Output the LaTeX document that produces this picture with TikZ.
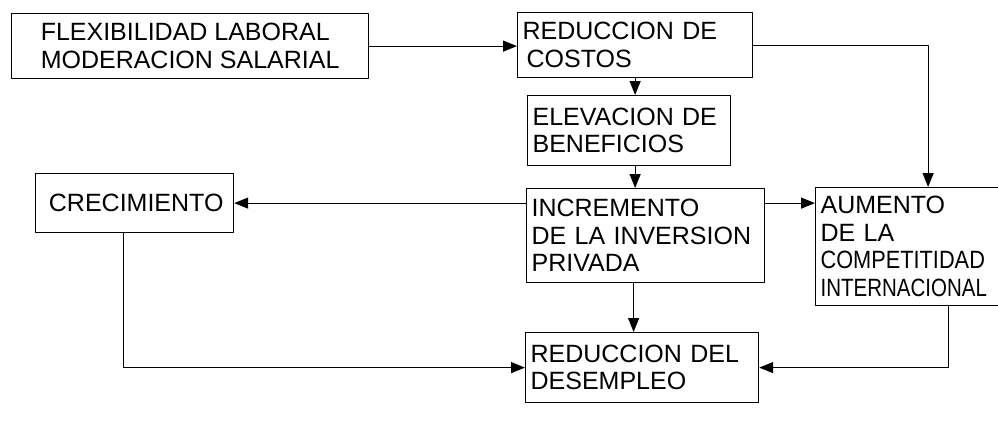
\documentclass[tikz,border=0pt]{standalone}
\usepackage{fontspec}
\setmainfont{Liberation Sans}
\usetikzlibrary{arrows.meta}
\tikzset{caja/.style={draw, line width=1.2pt, anchor=north west, align=left, inner xsep=5pt, inner ysep=0pt, font=\fontsize{25}{27.5}\selectfont}}
\newcommand{\estrecho}[2]{{\addfontfeature{FakeStretch=#1}#2}}
\begin{document}
\begin{tikzpicture}[x=1pt, y=-1pt, line width=1.2pt, >={Triangle[length=14pt,width=11pt]}, line join=round]
		\useasboundingbox (0,0) rectangle (998,423);
		%\draw[color=gray!50,dashed] (0,0) grid[step=50] (998,423);
		\node[caja, minimum width=357pt, minimum height=65pt] (flex) at (11,13) {FLEXIBILIDAD LABORAL\\MODERACION SALARIAL};
		\node[caja, text width=225pt, minimum height=65pt] (costos) at (517,12) {REDUCCION DE\\\hspace{4pt}COSTOS};
		\node[caja, text width=193pt, minimum height=70pt] (benef) at (527,95) {ELEVACION DE\\BENEFICIOS};
		\node[caja, text width=228pt, minimum height=94pt] (inver) at (526,188) {INCREMENTO\\DE LA INVERSION\\PRIVADA};
		\node[caja, text width=195pt, minimum height=118pt] (aumento) at (815,187) {AUMENTO\\DE LA\\\estrecho{0.87}{COMPETITIDAD}\\\estrecho{0.82}{INTERNACIONAL}};
		\node[caja, text width=188pt, minimum height=59pt] (crec) at (35,173) {\ CRECIMIENTO};
		\node[caja, text width=223pt, minimum height=70pt] (desemp) at (525,332) {REDUCCION DEL\\DESEMPLEO};
		\draw[->] (flex.east) -- (flex.east -| costos.west);
		\draw[->] (costos.east) -| ([xshift=10pt]aumento.north);
		\draw[->] (costos.south) -- (costos.south |- benef.north);
		\draw[->] (benef.south -| costos.south) -- (inver.north -| costos.south);
		\draw[->] (inver.west |- crec.east) -- (crec.east);
		\draw[->] (inver.east |- crec.east) -- (aumento.west |- crec.east);
		\draw[->] ([xshift=-11pt]crec.south) |- (desemp.west);
		\draw[->] ([xshift=-12pt]inver.south) -- ([xshift=-12pt]inver.south |- desemp.north);
		\draw[->] ([xshift=30pt]aumento.south) |- (desemp.east);
\end{tikzpicture}
\end{document}
